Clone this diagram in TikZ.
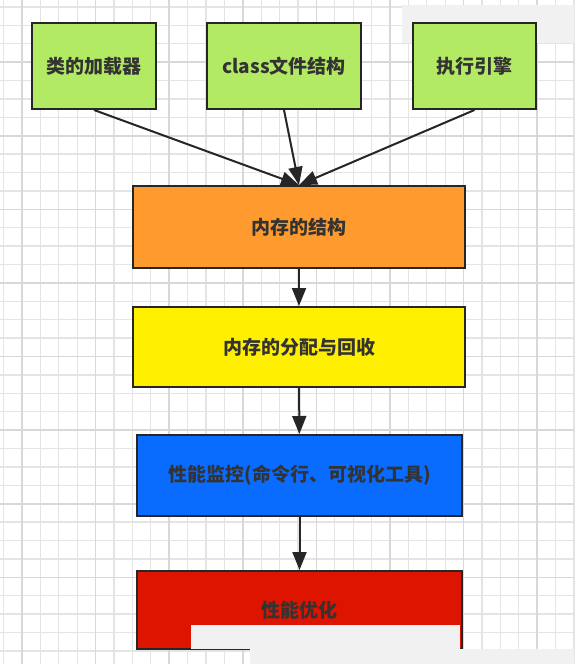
\documentclass[tikz,border=0pt]{standalone}
\usepackage{fontspec}
\setmainfont{Noto Sans CJK SC}
\usetikzlibrary{arrows.meta}

\definecolor{vert}{HTML}{B2EB63}
\definecolor{orange}{HTML}{FF9B2E}
\definecolor{jaune}{HTML}{FFF000}
\definecolor{bleu}{HTML}{0A6CFF}
\definecolor{rouge}{HTML}{DD1400}
\definecolor{trait}{HTML}{262626}
\definecolor{texte}{HTML}{333333}
\definecolor{grille}{HTML}{E4E4E4}
\definecolor{grilleforte}{HTML}{D8D8D8}
\definecolor{voile}{HTML}{F1F1F1}

\tikzset{
  boite/.style={draw=trait, line width=2pt, rectangle, inner sep=0pt,
    text=texte, font=\fontsize{19}{21}\selectfont\bfseries},
  fleche/.style={draw=trait, line width=2pt, -{Triangle[length=18pt,width=14pt]}}
}

\begin{document}
\begin{tikzpicture}[x=1pt,y=-1pt]
    \useasboundingbox (0,0) rectangle (574,664);
    \fill[white] (0,0) rectangle (574,664);

    % Grille
    \foreach \i in {0,...,31} {
        \draw[grille, line width=1.3pt] ({3.6+18.4*\i},0) -- ++(0,664);
    }
    \foreach \j in {0,...,36} {
        \draw[grille, line width=1.3pt] (0,{6.9+18.4*\j}) -- ++(574,0);
    }
    \foreach \i in {0,...,7} {
        \draw[grilleforte, line width=1.6pt] ({22+73.6*\i},0) -- ++(0,664);
    }
    \foreach \j in {0,...,8} {
        \draw[grilleforte, line width=1.6pt] (0,{-11.5+73.6*\j}) -- ++(574,0);
    }

    % Voile en haut
    \fill[voile] (402,5) rectangle (574,43);

    % Chargeur de classes
    \node[boite, fill=vert, minimum width=124pt, minimum height=86pt] (chargeur) at (94,66) {类的加载器};

    % Fichier class
    \node[boite, fill=vert, minimum width=154pt, minimum height=86pt] (fichier) at (284,66) {class文件结构};

    % Moteur d'exécution
    \node[boite, fill=vert, minimum width=123pt, minimum height=86pt] (moteur) at (474.5,66) {执行引擎};

    % Structure mémoire
    \node[boite, fill=orange, minimum width=332pt, minimum height=82pt] (structure) at (299,227) {内存的结构};

    % Allocation
    \node[boite, fill=jaune, minimum width=332pt, minimum height=80pt] (allocation) at (299,347) {内存的分配与回收};

    % Surveillance
    \node[boite, fill=bleu, minimum width=325pt, minimum height=81pt] (surveillance) at (299.5,475.5) {性能监控(命令行、可视化工具)};

    % Optimisation
    \node[boite, fill=rouge, minimum width=325pt, minimum height=78pt] (optimisation) at (299.5,610) {性能优化};

    % Flèches
    \draw[fleche] (chargeur.south) -- (structure.north);
    \draw[fleche] (fichier.south) -- (structure.north);
    \draw[fleche] (moteur.south) -- (structure.north);
    \draw[fleche] (structure) -- (allocation);
    \draw[fleche] (allocation) -- (surveillance);
    \draw[fleche] (surveillance) -- (optimisation);

    % Voile en bas
    \fill[voile] (191,625) rectangle (460,649);
    \fill[voile] (250,649) rectangle (574,664);
\end{tikzpicture}
\end{document}
